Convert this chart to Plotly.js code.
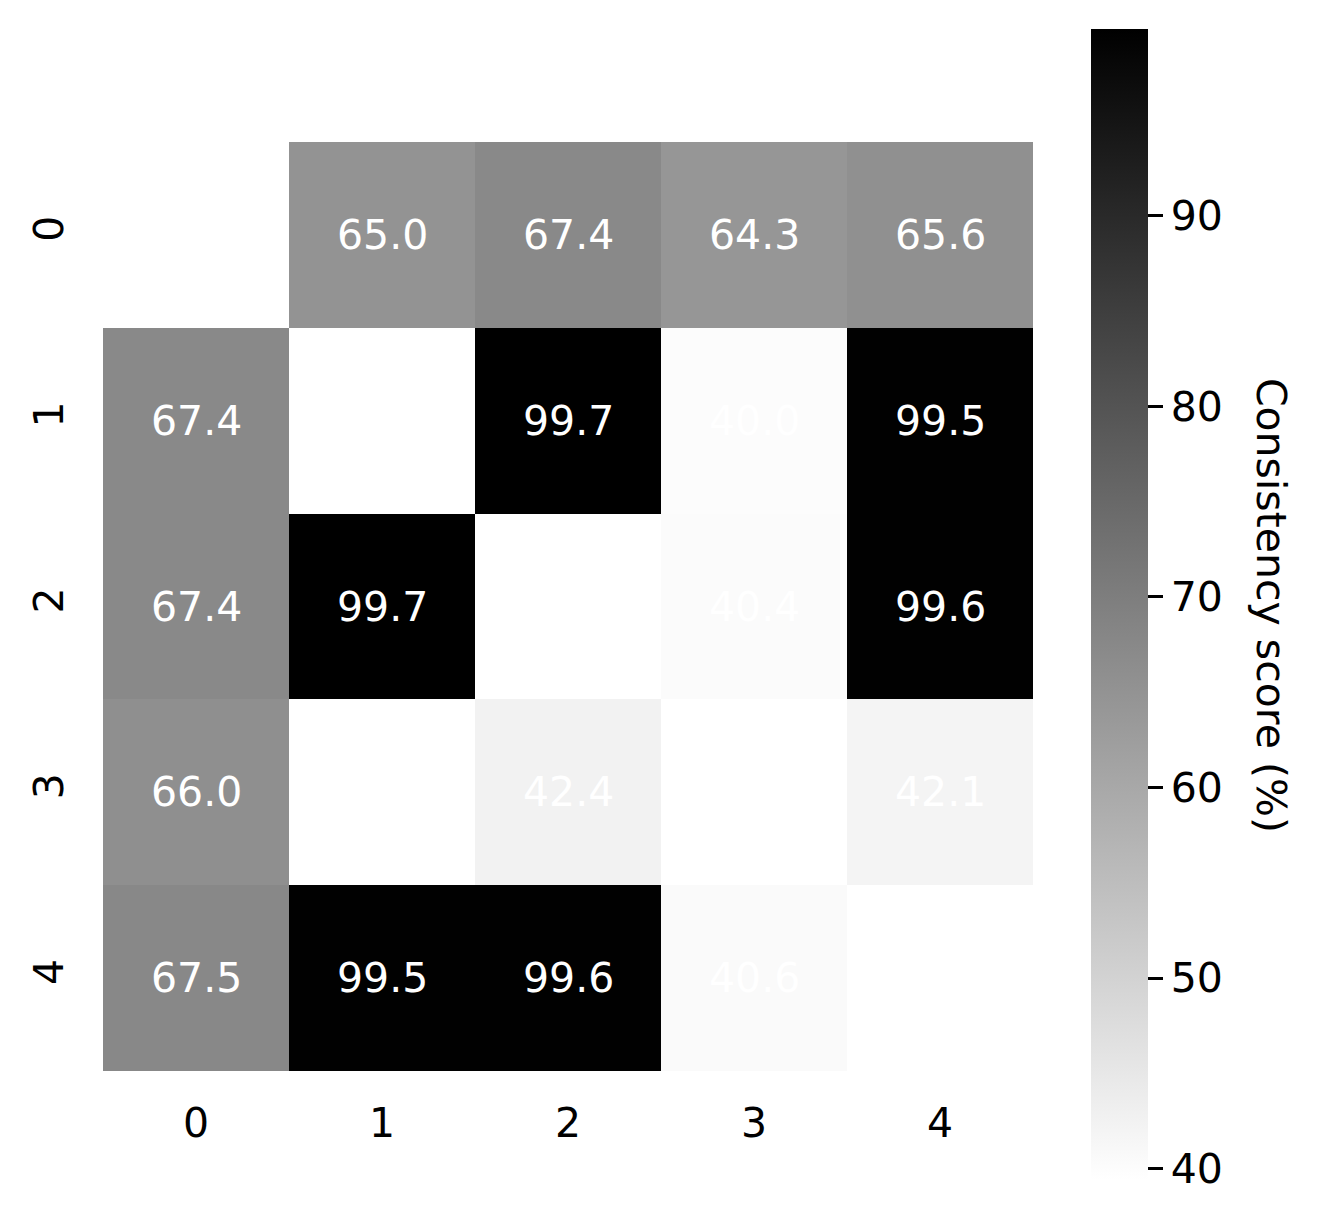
<!DOCTYPE html>
<html>
<head>
<meta charset="utf-8">
<script src="https://cdn.plot.ly/plotly-3.0.1.min.js"></script>
<style>
  body { margin: 0; background: #fff; }
  #chart { width: 1319px; height: 1223px; }
</style>
</head>
<body>
<div id="chart"></div>
<script>
// pairwise consistency scores (%), diagonal and missing pairs left empty
const labels = [0, 1, 2, 3, 4];
const row0 = [null, 65.0, 67.4, 64.3, 65.6];
const row1 = [67.4, null, 99.7, 40.0, 99.5];
const row2 = [67.4, 99.7, null, 40.4, 99.6];
const row3 = [66.0, null, 42.4, null, 42.1];
const row4 = [67.5, 99.5, 99.6, 40.6, null];
const scores = [row0, row1, row2, row3, row4];
const cbTicks = [40, 50, 60, 70, 80, 90];

const fontFam = 'DejaVu Sans, sans-serif';

const trace = {
  type: 'heatmap',
  x: labels,
  y: labels,
  z: scores,
  zmin: 39.4,
  zmax: 99.8,
  colorscale: [[0, '#ffffff'], [1, '#000000']],
  xgap: 0,
  ygap: 0,
  hoverongaps: false,
  colorbar: {
    thickness: 57,
    thicknessmode: 'pixels',
    len: 1151,
    lenmode: 'pixels',
    x: 1.0624,
    xanchor: 'left',
    y: 1.1216,
    yanchor: 'top',
    xpad: 0,
    ypad: 0,
    outlinewidth: 0,
    tickvals: cbTicks,
    tickprefix: '<span style="font-size:25px">\u00a0</span>',
    ticks: 'outside',
    ticklen: 15,
    tickwidth: 3,
    tickcolor: '#000',
    tickfont: { family: fontFam, size: 41, color: '#000' }
  }
};

// cell labels
const annotations = [];
scores.forEach((row, i) => {
  row.forEach((v, j) => {
    if (v === null) return;
    annotations.push({
      x: labels[j], y: labels[i], xref: 'x', yref: 'y',
      text: v.toFixed(1), showarrow: false,
      font: { family: fontFam, size: 41, color: '#ffffff' }
    });
  });
});

annotations.push({
  xref: 'paper', yref: 'paper',
  x: 1.284, y: 0.5016,
  text: 'Consistency score (%)',
  textangle: 90,
  showarrow: false,
  font: { family: fontFam, size: 41, color: '#000' }
});

Plotly.newPlot('chart', [trace], {
  width: 1319,
  height: 1223,
  margin: { l: 103, r: 286, t: 142, b: 152 },
  paper_bgcolor: '#fff',
  plot_bgcolor: '#fff',
  xaxis: {
    tickvals: labels,
    ticktext: labels.map(String),
    ticks: '',
    ticklabelstandoff: 24,
    showgrid: false,
    zeroline: false,
    showline: false,
    range: [-0.5, 4.5],
    tickfont: { family: fontFam, size: 41, color: '#000' }
  },
  yaxis: {
    tickvals: labels,
    ticktext: labels.map(String),
    ticks: '',
    tickangle: -90,
    ticklabelstandoff: 31,
    showgrid: false,
    zeroline: false,
    showline: false,
    range: [4.5, -0.5],
    tickfont: { family: fontFam, size: 41, color: '#000' }
  },
  annotations: annotations,
  showlegend: false
}, { displayModeBar: false });
</script>
</body>
</html>
